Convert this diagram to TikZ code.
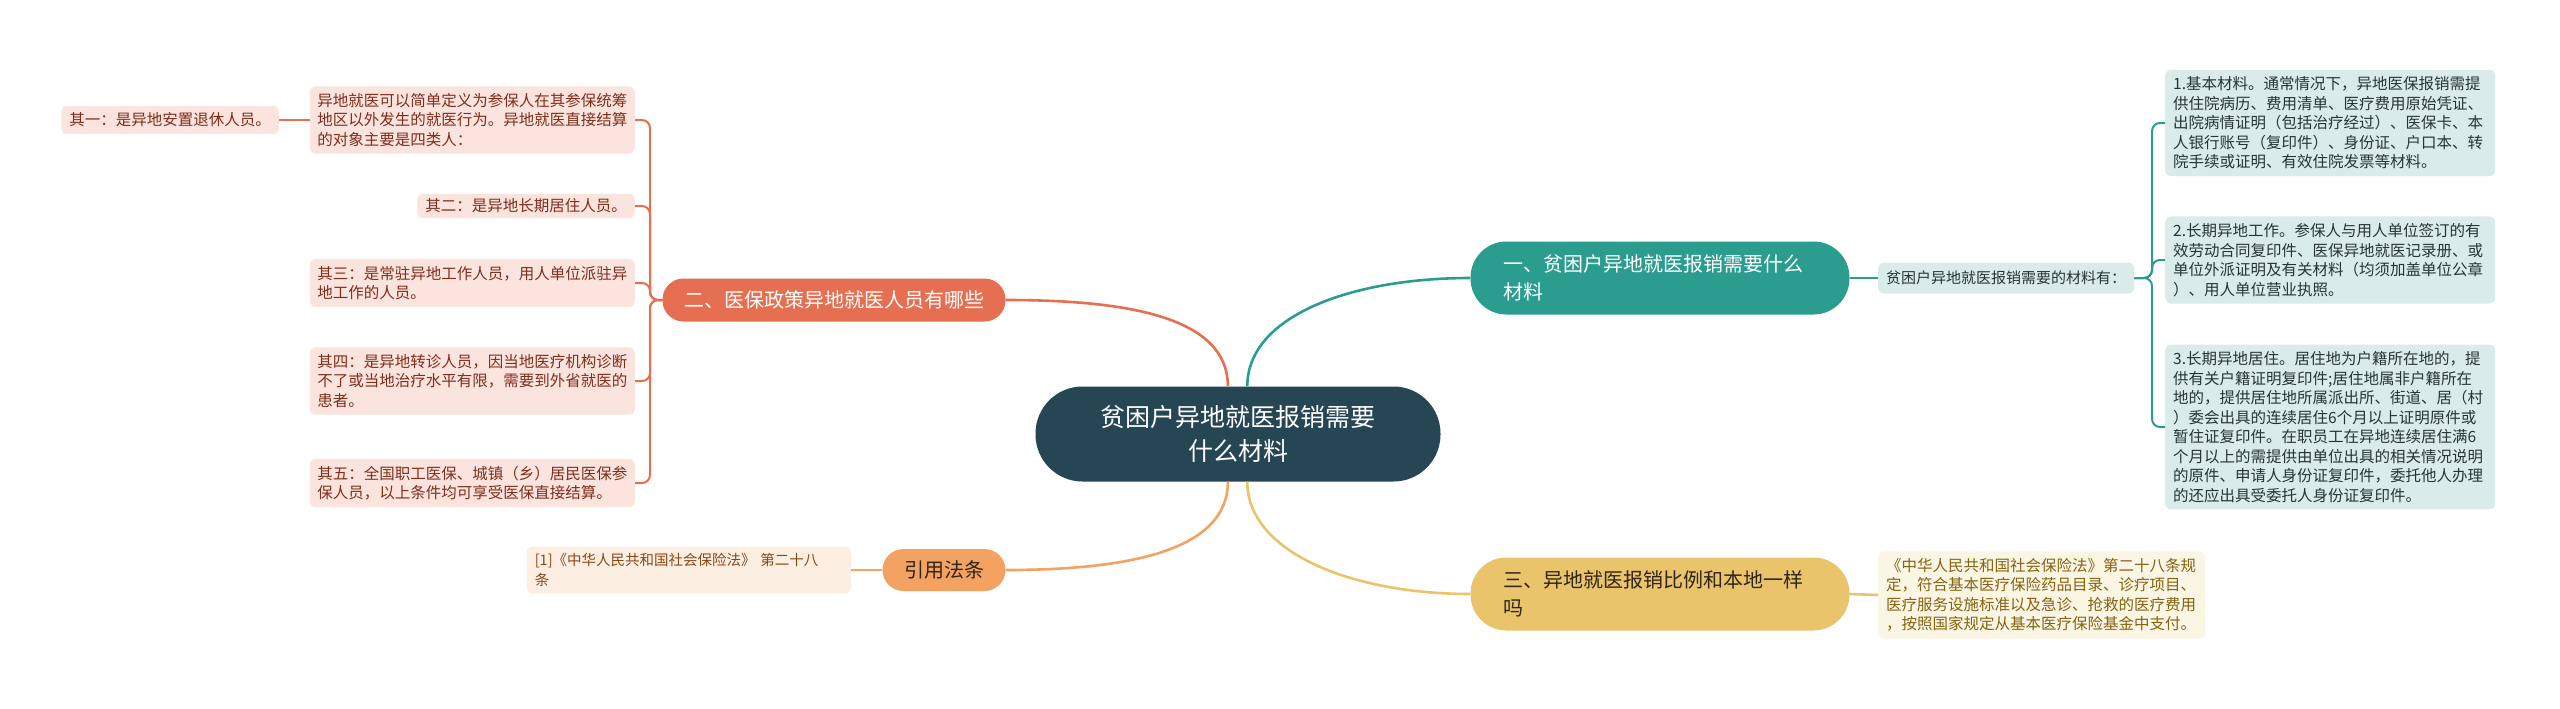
\documentclass[tikz,border=0pt]{standalone}
\usepackage{fontspec}
\setmainfont{Noto Sans CJK SC}
\usepackage{xcolor}
\usetikzlibrary{positioning,calc}
\definecolor{coreFill}{RGB}{38,70,83}
\definecolor{tealMain}{RGB}{42,157,143}
\definecolor{coralMain}{RGB}{231,111,81}
\definecolor{sandMain}{RGB}{244,162,97}
\definecolor{sunMain}{RGB}{233,196,106}
\definecolor{tealLight}{RGB}{218,236,234}
\definecolor{coralLight}{RGB}{251,228,221}
\definecolor{sandLight}{RGB}{253,238,226}
\definecolor{sunLight}{RGB}{251,245,228}
\definecolor{tealText}{RGB}{40,52,52}
\definecolor{coralText}{RGB}{128,46,28}
\definecolor{sandText}{RGB}{134,72,26}
\definecolor{sunText}{RGB}{132,100,18}
\definecolor{darkText}{RGB}{48,36,24}

\begin{document}
\begin{tikzpicture}[x=1pt, y=-1pt,
    core/.style={rectangle, rounded corners=47pt, fill=coreFill, text=white,
                 minimum width=405pt, minimum height=95pt, align=center,
                 font=\fontsize{25}{34}\selectfont},
    branch/.style={rectangle, rounded corners=36pt, minimum height=73pt,
                   minimum width=379pt, text width=313pt, inner xsep=33pt,
                   align=left, font=\fontsize{20}{28}\selectfont},
    pill/.style={rectangle, rounded corners=21pt, minimum height=42pt,
                 inner xsep=14pt, font=\fontsize{20}{28}\selectfont},
    leaf/.style={rectangle, rounded corners=6pt, inner xsep=8pt, inner ysep=7pt,
                 align=left, font=\fontsize{15.5}{19.5}\selectfont},
    trunk/.style={line width=2.6pt},
    twig/.style={line width=2pt, rounded corners=8pt}
  ]
  \path[fill=white] (0,0) rectangle (2560,709);
  \useasboundingbox (0,0) rectangle (2560,709);

  % centre and main branches
  \node[core] (core) at (1238,434) {贫困户异地就医报销需要\\什么材料};
  \node[branch, fill=tealMain, text=white] (need) at (1660,278)
    {一、贫困户异地就医报销需要什么\\材料};
  \node[branch, fill=sunMain, text=darkText] (ratio) at (1660,594)
    {三、异地就医报销比例和本地一样\\吗};
  \node[pill, fill=coralMain, text=white, minimum width=343pt, minimum height=43pt]
    (who) at (834,300) {二、医保政策异地就医人员有哪些};
  \node[pill, fill=sandMain, text=darkText, minimum width=123pt] (law) at (944,570) {引用法条};

  % right side: materials
  \node[leaf, fill=tealLight, text=tealText, anchor=west, minimum height=31pt,
        font=\fontsize{15}{19.5}\selectfont] (list) at (1878,278)
    {贫困户异地就医报销需要的材料有：};
  \node[leaf, fill=tealLight, text=tealText, anchor=west, text width=314pt] (mat1) at (2165,123)
    {1.基本材料。通常情况下，异地医保报销需提\\供住院病历、费用清单、医疗费用原始凭证、\\出院病情证明（包括治疗经过）、医保卡、本\\人银行账号（复印件）、身份证、户口本、转\\院手续或证明、有效住院发票等材料。};
  \node[leaf, fill=tealLight, text=tealText, anchor=west, text width=314pt] (mat2) at (2165,260)
    {2.长期异地工作。参保人与用人单位签订的有\\效劳动合同复印件、医保异地就医记录册、或\\单位外派证明及有关材料（均须加盖单位公章\\）、用人单位营业执照。};
  \node[leaf, fill=tealLight, text=tealText, anchor=west, text width=314pt] (mat3) at (2165,427)
    {3.长期异地居住。居住地为户籍所在地的，提\\供有关户籍证明复印件;居住地属非户籍所在\\地的，提供居住地所属派出所、街道、居（村\\）委会出具的连续居住6个月以上证明原件或\\暂住证复印件。在职员工在异地连续居住满6\\个月以上的需提供由单位出具的相关情况说明\\的原件、申请人身份证复印件，委托他人办理\\的还应出具受委托人身份证复印件。};
  \node[leaf, fill=sunLight, text=sunText, anchor=west, text width=311pt] (rule) at (1878,595)
    {《中华人民共和国社会保险法》第二十八条规\\定，符合基本医疗保险药品目录、诊疗项目、\\医疗服务设施标准以及急诊、抢救的医疗费用\\，按照国家规定从基本医疗保险基金中支付。};

  % left side: who may claim
  \node[leaf, fill=coralLight, text=coralText, anchor=east, text width=310pt, inner xsep=7.5pt]
    (defn) at (635,120)
    {异地就医可以简单定义为参保人在其参保统筹\\地区以外发生的就医行为。异地就医直接结算\\的对象主要是四类人：};
  \node[leaf, fill=coralLight, text=coralText] (q1) at (170,120) {其一：是异地安置退休人员。};
  \node[leaf, fill=coralLight, text=coralText, anchor=east, inner ysep=5pt] (q2) at (635,206)
    {其二：是异地长期居住人员。};
  \node[leaf, fill=coralLight, text=coralText, anchor=east, text width=310pt, inner xsep=7.5pt]
    (q3) at (635,283) {其三：是常驻异地工作人员，用人单位派驻异\\地工作的人员。};
  \node[leaf, fill=coralLight, text=coralText, anchor=east, text width=310pt, inner xsep=7.5pt]
    (q4) at (635,381) {其四：是异地转诊人员，因当地医疗机构诊断\\不了或当地治疗水平有限，需要到外省就医的\\患者。};
  \node[leaf, fill=coralLight, text=coralText, anchor=east, text width=310pt, inner xsep=7.5pt]
    (q5) at (635,483) {其五：全国职工医保、城镇（乡）居民医保参\\保人员，以上条件均可享受医保直接结算。};
  \node[leaf, fill=sandLight, text=sandText, anchor=east, text width=308pt,
        font=\fontsize{14.5}{19.5}\selectfont] (ref) at (851,570)
    {[1]《中华人民共和国社会保险法》 第二十八\\条};

  % connectors
  \coordinate (lbend) at (650,300);
  \coordinate (rbend) at (2152,278);

  \draw[trunk, coralMain] (core.102) .. controls +(0,-70) and +(120,0) .. (who.east);
  \draw[trunk, tealMain] (core.79) .. controls +(0,-70) and +(-120,0) .. (need.west);
  \draw[trunk, sandMain] (core.258) .. controls +(0,70) and +(120,0) .. (law.east);
  \draw[trunk, sunMain] (core.281) .. controls +(0,70) and +(-120,0) .. (ratio.west);

  \draw[trunk, tealMain] (need.east) -- (list.west);
  \draw[trunk, sunMain] (ratio.east) -- (rule.west);
  \draw[trunk, sandMain] (law.west) -- (ref.east);

  \draw[twig, tealMain] (list.east) -- (rbend) |- (mat1.west);
  \draw[twig, tealMain] (list.east) -- (rbend) |- (mat2.west);
  \draw[twig, tealMain] (list.east) -- (rbend) |- (mat3.west);

  \draw[twig, coralMain] (who.west) -- (lbend) |- (defn.east);
  \draw[twig, coralMain] (who.west) -- (lbend) |- (q2.east);
  \draw[twig, coralMain] (who.west) -- (lbend) |- (q3.east);
  \draw[twig, coralMain] (who.west) -- (lbend) |- (q4.east);
  \draw[twig, coralMain] (who.west) -- (lbend) |- (q5.east);
  \draw[twig, coralMain] (defn.west) -- (q1.east);
\end{tikzpicture}
\end{document}
